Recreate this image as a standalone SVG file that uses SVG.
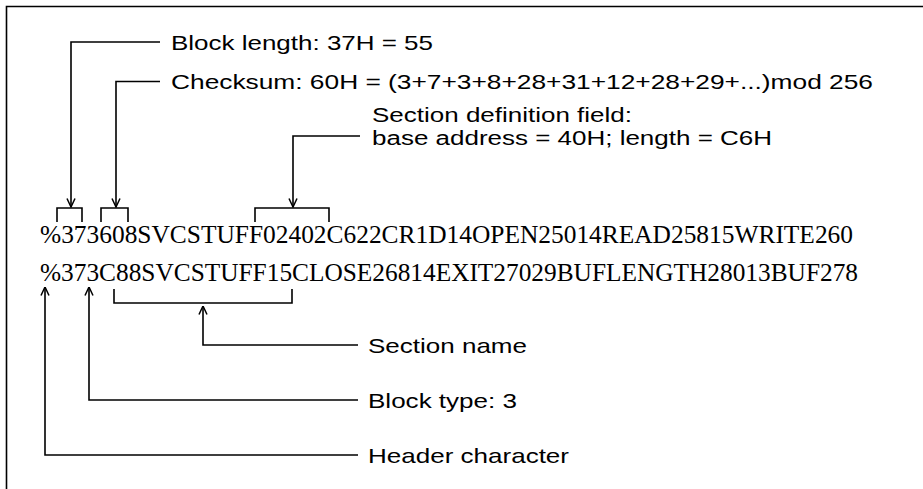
<svg xmlns="http://www.w3.org/2000/svg" width="923" height="489" viewBox="0 0 923 489">
<defs>
<style>
.ln{fill:none;stroke:#000;stroke-width:1.6;}
.lbl{font-family:"Liberation Sans",Arial,sans-serif;font-size:21px;fill:#000;}
.sd{font-size:20px;}
.rec{font-family:"Liberation Serif","Times New Roman",serif;font-size:25px;fill:#000;}
</style>
<marker id="ah" viewBox="0 0 10 10" refX="9.5" refY="5" markerWidth="10" markerHeight="10" markerUnits="userSpaceOnUse" orient="auto">
<path d="M1,1 L9.5,5 L1,9" fill="none" stroke="#000" stroke-width="1.5"/>
</marker>
</defs>
<rect width="923" height="489" fill="#fff"/>
<path class="ln" d="M923,6.5 H6.5 V489"/>
<g id="records">
<text class="rec" x="40" y="243" textLength="813" lengthAdjust="spacingAndGlyphs">%373608SVCSTUFF02402C622CR1D14OPEN25014READ25815WRITE260</text>
<text class="rec" x="40" y="281" textLength="818" lengthAdjust="spacingAndGlyphs">%373C88SVCSTUFF15CLOSE26814EXIT27029BUFLENGTH28013BUF278</text>
</g>
<g id="block-length"><text class="lbl" x="171" y="49.5" textLength="262" lengthAdjust="spacingAndGlyphs">Block length: 37H = 55</text></g>
<g id="checksum"><text class="lbl" x="171" y="89" textLength="702" lengthAdjust="spacingAndGlyphs">Checksum: 60H = (3+7+3+8+28+31+12+28+29+...)mod 256</text></g>
<g id="section-def"><text class="lbl sd" x="372" y="122" textLength="260" lengthAdjust="spacingAndGlyphs">Section definition field:</text><text class="lbl sd" x="372" y="145" textLength="400" lengthAdjust="spacingAndGlyphs">base address = 40H; length = C6H</text></g>
<g id="section-name"><text class="lbl" x="368" y="352.5" textLength="159" lengthAdjust="spacingAndGlyphs">Section name</text></g>
<g id="block-type"><text class="lbl" x="368" y="407.5" textLength="149" lengthAdjust="spacingAndGlyphs">Block type: 3</text></g>
<g id="header-char"><text class="lbl" x="368" y="462.5" textLength="201" lengthAdjust="spacingAndGlyphs">Header character</text></g>
<g id="connectors">
<path class="ln" d="M160,42 H71 V207" marker-end="url(#ah)"/>
<path class="ln" d="M160,81.5 H116 V207" marker-end="url(#ah)"/>
<path class="ln" d="M360,136 H293 V207" marker-end="url(#ah)"/>
<path class="ln" d="M57,222 V208 H82 V222"/>
<path class="ln" d="M101,222 V208 H128 V222"/>
<path class="ln" d="M255,222 V208 H329 V222"/>
<path class="ln" d="M114,289 V303 H292 V289"/>
<path class="ln" d="M358,345 H203 V306" marker-end="url(#ah)"/>
<path class="ln" d="M358,400 H89 V287" marker-end="url(#ah)"/>
<path class="ln" d="M358,455 H45 V287" marker-end="url(#ah)"/>
</g>
</svg>
